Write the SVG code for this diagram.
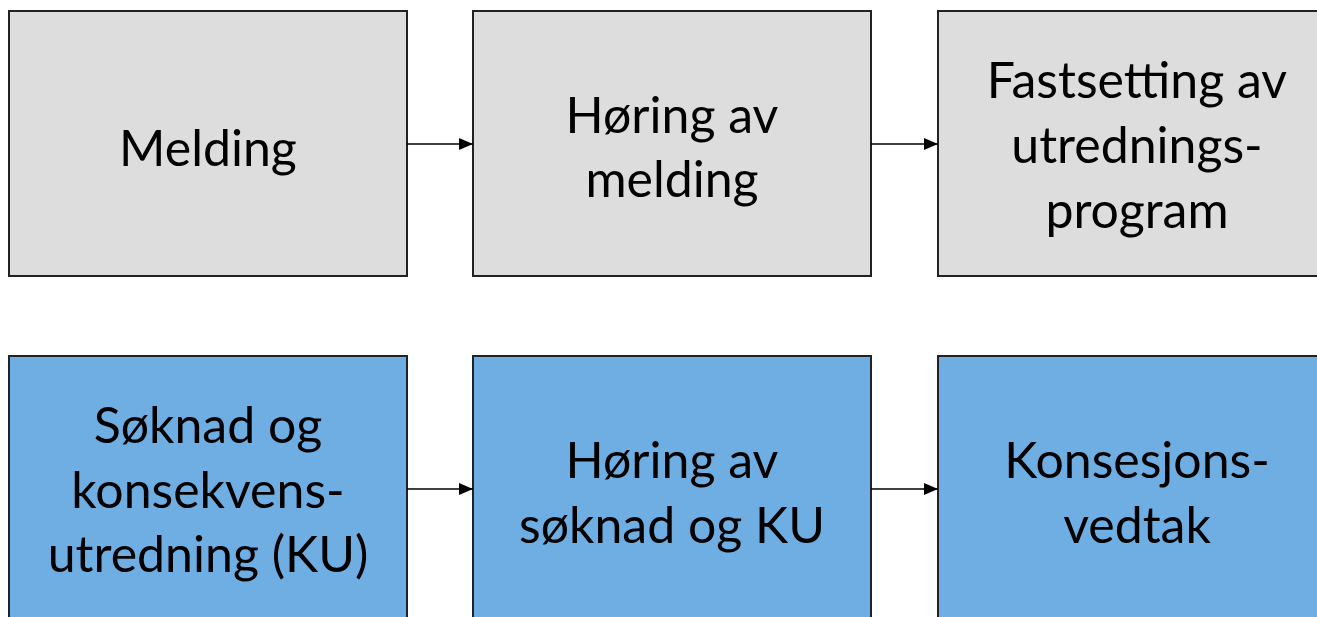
<svg xmlns="http://www.w3.org/2000/svg" width="1317" height="617" viewBox="0 0 1317 617">
<defs>
<style>
.g rect{fill:#dddddd;stroke:#222;stroke-width:2}
.b rect{fill:#6faee3;stroke:#222;stroke-width:2}
text{font-family:"Lato","Open Sans",sans-serif;font-size:50px;fill:#000;text-anchor:middle}
.c line{stroke:#000;stroke-width:1.5;marker-end:url(#ah)}
</style>
<marker id="ah" viewBox="0 0 14 12" refX="14" refY="6" markerWidth="14" markerHeight="12" markerUnits="userSpaceOnUse" orient="auto">
<path d="M0,0 L14,6 L0,12 z" fill="#000"/>
</marker>
</defs>
<rect width="1317" height="617" fill="#fff"/>
<g id="n1" class="g"><rect x="9" y="11" width="398" height="265"/><text x="208" y="166">Melding</text></g>
<g id="n2" class="g"><rect x="473" y="11" width="398" height="265"/><text x="672" y="133">Høring av</text><text x="672" y="197">melding</text></g>
<g id="n3" class="g"><rect x="938" y="11" width="398" height="265"/><text x="1137" y="98">Fastsetting av</text><text x="1137" y="163">utrednings-</text><text x="1137" y="228">program</text></g>
<g id="n4" class="b"><rect x="9" y="356" width="398" height="275"/><text x="208" y="443">Søknad og</text><text x="208" y="508">konsekvens-</text><text x="208" y="572">utredning (KU)</text></g>
<g id="n5" class="b"><rect x="473" y="356" width="398" height="275"/><text x="672" y="478">Høring av</text><text x="672" y="543">søknad og KU</text></g>
<g id="n6" class="b"><rect x="938" y="356" width="398" height="275"/><text x="1137" y="478">Konsesjons-</text><text x="1137" y="543">vedtak</text></g>
<g id="connectors" class="c">
<line x1="407" y1="144" x2="473" y2="144"/>
<line x1="871" y1="144" x2="938" y2="144"/>
<line x1="407" y1="489" x2="473" y2="489"/>
<line x1="871" y1="489" x2="938" y2="489"/>
</g>
</svg>
